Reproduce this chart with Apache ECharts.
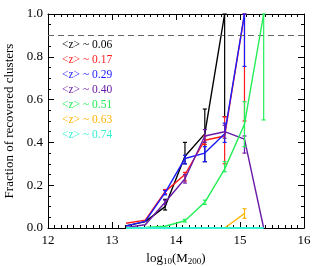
<!DOCTYPE html>
<html><head><meta charset="utf-8">
<script src="https://cdn.jsdelivr.net/npm/echarts@6/dist/echarts.min.js"></script>
<style>html,body{margin:0;padding:0;background:#fff}#c{width:315px;height:266px}</style>
</head><body><div id="c"></div>
<script>
// ---- data ----
const massBins = [13.22, 13.52, 13.83, 14.14, 14.45, 14.76, 15.07, 15.37];
const zLabels = ['<z> ~ 0.06', '<z> ~ 0.17', '<z> ~ 0.29', '<z> ~ 0.40', '<z> ~ 0.51', '<z> ~ 0.63', '<z> ~ 0.74'];
const frac006 = [0.01, 0.03, 0.10, 0.335, 0.44, 1.0, null, null];
const frac017 = [0.022, 0.037, 0.17, 0.25, 0.41, 0.43, 1.0, null];
const frac029 = [0.01, 0.031, 0.165, 0.325, 0.35, 0.44, 1.0, null];
const frac040 = [0.003, 0.015, 0.12, 0.23, 0.43, 0.45, 0.415, 0.0];
const frac051 = [0.0, 0.002, 0.008, 0.034, 0.12, 0.275, 0.485, 1.0];
const frac063 = [0.0, 0.0, 0.0, 0.0, 0.0, 0.0, 0.068, null];
const frac074 = [0.0, 0.0, 0.0, 0.0, 0.0, 0.0, 0.0, 0.0];
// error bar lows / highs (null = no visible bar)
const lo006 = [null, null, 0.084, 0.30, 0.31, 0.52, null, null];
const hi006 = [null, null, 0.134, 0.40, 0.556, 1.0, null, null];
const lo017 = [null, null, 0.16, 0.22, 0.39, 0.30, 0.50, null];
const hi017 = [null, null, 0.18, 0.26, 0.43, 0.52, 1.0, null];
const lo029 = [null, null, 0.155, 0.30, 0.31, 0.40, 0.755, null];
const hi029 = [null, null, 0.175, 0.34, 0.38, 0.49, 1.0, null];
const lo040 = [null, null, 0.11, 0.21, 0.40, 0.42, 0.35, null];
const hi040 = [null, null, 0.13, 0.25, 0.46, 0.48, 0.43, null];
const lo051 = [null, null, null, 0.028, 0.11, 0.263, 0.38, 0.505];
const hi051 = [null, null, null, 0.04, 0.13, 0.31, 0.59, 1.0];
const lo063 = [null, null, null, null, null, null, 0.045, null];
const hi063 = [null, null, null, null, null, null, 0.09, null];
const xTicks = [12, 13, 14, 15, 16];
const yTicks = [0.0, 0.2, 0.4, 0.6, 0.8, 1.0];
const threshold = 0.9;

// ---- style ----
const colors = ['#000000', '#ff1a1a', '#1a1aff', '#6a1aa8', '#22ee55', '#ffb400', '#33f0d0'];
const widths = [1.4, 1.4, 1.4, 1.4, 1.4, 1.4, 2];
const allFrac = [frac006, frac017, frac029, frac040, frac051, frac063, frac074];
const allLo = [lo006, lo017, lo029, lo040, lo051, lo063, null];
const allHi = [hi006, hi017, hi029, hi040, hi051, hi063, null];
const FONT = '"Liberation Serif", "DejaVu Serif", serif';

const series = [];
allFrac.forEach((vals, i) => {
  series.push({
    name: zLabels[i], type: 'line', xAxisIndex: 0, yAxisIndex: 0,
    data: massBins.map((m, k) => [m, vals[k]]),
    showSymbol: false, symbol: 'none', connectNulls: false,
    lineStyle: {color: colors[i], width: widths[i]}, itemStyle: {color: colors[i]},
    z: 2 + i, clip: i < 6,
    markLine: i === 0 ? {silent: true, symbol: 'none', label: {show: false},
      lineStyle: {color: '#666', type: [6, 4], width: 1}, data: [{yAxis: threshold}]} : undefined
  });
  if (allLo[i]) {
    const eb = [];
    massBins.forEach((m, k) => { if (allLo[i][k] != null) eb.push([m, allLo[i][k], allHi[i][k]]); });
    series.push({
      type: 'custom', xAxisIndex: 0, yAxisIndex: 0, z: 2 + i, silent: true,
      data: eb,
      renderItem: function (params, api) {
        const x = api.value(0);
        const a = api.coord([x, api.value(1)]);
        const b = api.coord([x, api.value(2)]);
        const st = {stroke: colors[i], lineWidth: 1.2};
        const w = 2;
        return {type: 'group', children: [
          {type: 'line', shape: {x1: a[0], y1: a[1], x2: b[0], y2: b[1]}, style: st},
          {type: 'line', shape: {x1: a[0] - w, y1: a[1], x2: a[0] + w, y2: a[1]}, style: st},
          {type: 'line', shape: {x1: b[0] - w, y1: b[1], x2: b[0] + w, y2: b[1]}, style: st}
        ]};
      }
    });
  }
});

const axisBase = {
  axisLine: {show: true, onZero: false, lineStyle: {color: '#000', width: 1}},
  axisTick: {show: true, inside: true, length: 6, lineStyle: {color: '#000', width: 1}},
  minorTick: {show: true, length: 3, lineStyle: {color: '#000', width: 1}},
  splitLine: {show: false}
};

const chart = echarts.init(document.getElementById('c'), null, {renderer: 'canvas'});
chart.setOption({
  animation: false,
  backgroundColor: '#fff',
  grid: {left: 48, right: 11, top: 14, bottom: 38, containLabel: false, outerBoundsMode: 'none'},
  legend: {
    orient: 'vertical', left: 57, top: 39, icon: 'none', itemWidth: 0, itemHeight: 10, itemGap: 3,
    selectedMode: false, padding: 0,
    textStyle: {fontFamily: FONT, fontSize: 11.5, padding: [0, 0, 0, 0]},
    data: zLabels.map((n, i) => ({name: n, textStyle: {color: colors[i]}}))
  },
  xAxis: [
    Object.assign({}, axisBase, {type: 'value', position: 'bottom', min: xTicks[0], max: xTicks[xTicks.length - 1], interval: 1,
      minorTick: Object.assign({}, axisBase.minorTick, {splitNumber: 10}),
      axisLabel: {color: '#000', fontFamily: FONT, fontSize: 13, margin: 6},
      name: 'log{s|10}(M{s|200})', nameLocation: 'middle', nameGap: 20,
      nameTextStyle: {color: '#000', fontFamily: FONT, fontSize: 13,
        rich: {s: {fontFamily: FONT, fontSize: 9, verticalAlign: 'bottom', padding: [7, 0, 0, 0], color: '#000'}}}}),
    Object.assign({}, axisBase, {type: 'value', position: 'top', min: xTicks[0], max: xTicks[xTicks.length - 1], interval: 1,
      minorTick: Object.assign({}, axisBase.minorTick, {splitNumber: 10}),
      axisLabel: {show: false}})
  ],
  yAxis: [
    Object.assign({}, axisBase, {type: 'value', position: 'left', min: yTicks[0], max: yTicks[yTicks.length - 1], interval: 0.2,
      minorTick: Object.assign({}, axisBase.minorTick, {splitNumber: 4}),
      axisLabel: {color: '#000', fontFamily: FONT, fontSize: 13, margin: 5, formatter: v => v.toFixed(1)},
      name: 'Fraction of recovered clusters', nameLocation: 'middle', nameGap: 27, nameRotate: 90,
      nameTextStyle: {color: '#000', fontFamily: FONT, fontSize: 13}}),
    Object.assign({}, axisBase, {type: 'value', position: 'right', min: yTicks[0], max: yTicks[yTicks.length - 1], interval: 0.2,
      minorTick: Object.assign({}, axisBase.minorTick, {splitNumber: 4}),
      axisLabel: {show: false}})
  ],
  series: series
});
</script></body></html>
